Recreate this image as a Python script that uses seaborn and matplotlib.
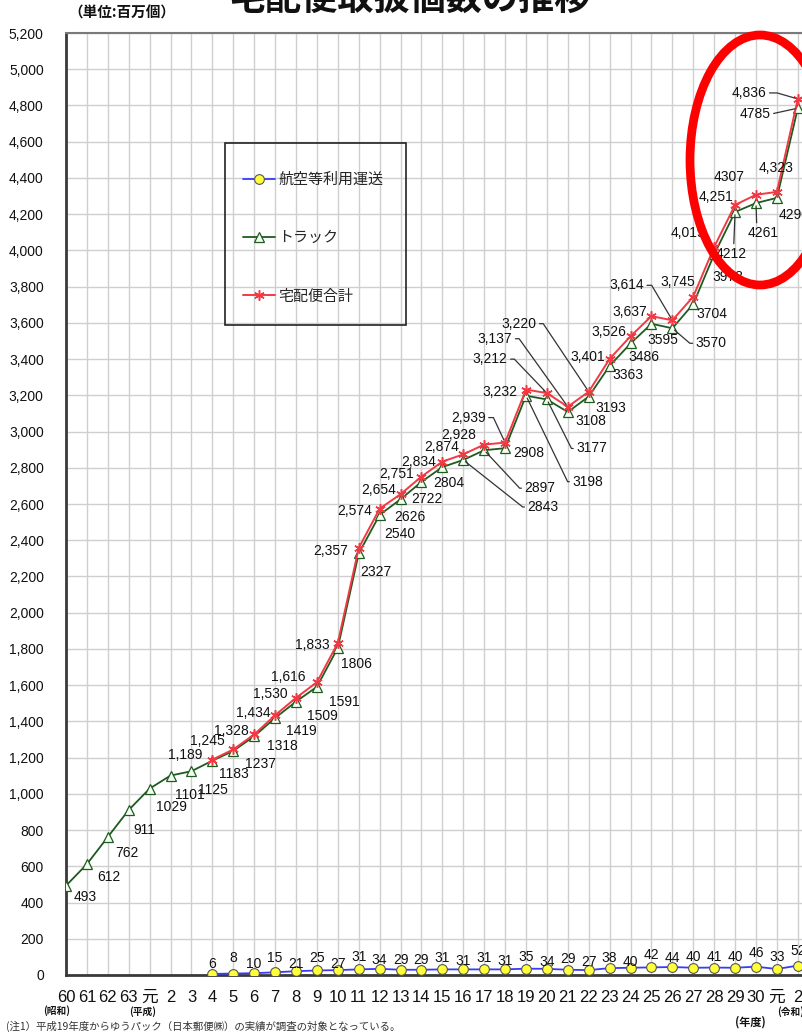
import numpy as np
import pandas as pd
import matplotlib
matplotlib.use("Agg")
import matplotlib.pyplot as plt
from matplotlib.patches import Ellipse, Rectangle
from matplotlib.ticker import FuncFormatter
import seaborn as sns

# ---- data (単位: 百万個) -------------------------------------------------
# fiscal years: 昭和60–63, 平成元–30, 令和元–2
years = ["60", "61", "62", "63", "元"] + [str(n) for n in range(2, 31)] + ["元", "2"]

truck = [493, 612, 762, 911, 1029, 1101, 1125, 1183, 1237, 1318, 1419, 1509,
         1591, 1806, 2327, 2540, 2626, 2722, 2804, 2843, 2897, 2908, 3198, 3177,
         3108, 3193, 3363, 3486, 3595, 3570, 3704, 3978, 4212, 4261, 4290, 4785]

# the total and air series start in 平成4
first_total_year = 7
total = [1189, 1245, 1328, 1434, 1530, 1616, 1833, 2357, 2574, 2654, 2751, 2834,
         2874, 2928, 2939, 3232, 3212, 3137, 3220, 3401, 3526, 3637, 3614, 3745,
         4019, 4251, 4307, 4323, 4836]
air = [6, 8, 10, 15, 21, 25, 27, 31, 34, 29, 29, 31, 31, 31, 31, 35, 34, 29, 27,
       38, 40, 42, 44, 40, 41, 40, 46, 33, 52]

series_names = ["航空等利用運送", "トラック", "宅配便合計"]

# ---- label placement (pixel offsets of the label centre; +dy is downwards) --
truck_off = {0: (19, 11), 1: (22, 13), 2: (19, 16), 3: (16, 20), 4: (22, 18),
             5: (19, 19), 6: (21, 19), 7: (22, 13), 8: (27, 13), 9: (28, 10),
             10: (26, 13), 11: (26, 14), 12: (27, 15), 13: (19, 16), 14: (17, 19),
             15: (20, 19), 16: (9, 18), 17: (5, 17), 18: (6, 16), 21: (24, 5),
             24: (23, 9), 25: (22, 11), 26: (18, 9), 27: (13, 14), 28: (11, 16),
             30: (19, 10), 31: (14, 23), 34: (17, 17)}
# labels joined to their point by a leader line: offset, text anchor, angle, arm
truck_lead = {19: ((80, 47), (0, 0.5), 180, 5), 20: ((56, 38), (0, 0.5), 180, 5),
              22: ((62, 86), (0, 0.5), 180, 5), 23: ((45, 49), (0, 0.5), 180, 5),
              29: ((39, 15), (0, 0.5), 180, 6), 32: ((-4, 42), (0.58, 0.85), 90, 0),
              33: ((7, 30), (0.3, 0.85), 90, 0), 35: ((-43, 6), (1, 0.5), 0, 0)}

total_off = {7: (-27, -5), 8: (-26, -8), 9: (-23, -3), 10: (-22, -2), 11: (-26, -4),
             12: (-29, -5), 13: (-26, 2), 14: (-28, 3), 15: (-25, 2), 16: (-22, -4),
             17: (-25, -3), 18: (-24, 0), 19: (-22, -7), 20: (-25, -10), 22: (-26, 2),
             26: (-22, -2), 27: (-22, -4), 28: (-22, -4), 30: (-15, -15),
             31: (-26, -14), 32: (-19, -8), 33: (-27, -18), 34: (-1, -24)}
total_lead = {21: ((-37, -25), (1, 0.5), 0, 8), 23: ((-57, -34), (1, 0.5), 0, 7),
              24: ((-73, -68), (1, 0.5), 0, 7), 25: ((-70, -68), (1, 0.5), 0, 7),
              29: ((-46, -35), (1, 0.5), 0, 8), 35: ((-49, -6), (1, 0.5), 0, 11)}
total_plain = {33}

air_dy = [-10, -16, -9, -14, -7, -12, -6, -12, -9, -10, -10, -11, -8, -11, -8,
          -12, -7, -11, -8, -10, -6, -12, -9, -11, -11, -11, -14, -12, -15]

# ---- styling -------------------------------------------------------------
W, H = 802, 1032
sns.set_theme(style="white")
plt.rcParams["font.family"] = ["Liberation Sans", "Noto Sans CJK JP", "DejaVu Sans"]
plt.rcParams["axes.unicode_minus"] = False
narrow = ["Liberation Sans Narrow", "Liberation Sans", "Noto Sans CJK JP"]
cjk = ["Noto Sans CJK JP", "DejaVu Sans"]

green = "#1f5a1f"
red = "#f23a44"
blue = "#3a3aff"
text_c = "#111111"

fig = plt.figure(figsize=(W / 100, H / 100), dpi=100)
ax = fig.add_axes([66 / W, 57 / H, 1 - 66 / W, (975 - 33) / H])

x_all = np.arange(len(years))
x_sub = x_all[first_total_year:]
df_truck = pd.DataFrame({"x": x_all, "v": truck})
df_total = pd.DataFrame({"x": x_sub, "v": total})
df_air = pd.DataFrame({"x": x_sub, "v": air})

sns.lineplot(data=df_truck, x="x", y="v", ax=ax, color=green, linewidth=1.3,
             marker="^", markersize=6.5, markerfacecolor="#f4fff4",
             markeredgecolor=green, markeredgewidth=0.9, label=series_names[1],
             zorder=4)
sns.lineplot(data=df_total, x="x", y="v", ax=ax, color=red, linewidth=1.4,
             marker=(6, 2, 0), markersize=7.5, markeredgecolor=red,
             markeredgewidth=1.1, label=series_names[2], zorder=5)
sns.lineplot(data=df_air, x="x", y="v", ax=ax, color=blue, linewidth=1.3,
             marker="o", markersize=7, markerfacecolor="#ffff3a",
             markeredgecolor="#555555", markeredgewidth=0.8,
             label=series_names[0], zorder=6)

ax.set_xlim(0, 35.2)
ax.set_ylim(0, 5200)
ax.set_xticks(x_all)
ax.set_xticklabels(years, fontsize=12, color=text_c, family=narrow)
ax.set_yticks(np.arange(0, 5201, 200))
ax.yaxis.set_major_formatter(FuncFormatter(lambda v, p: f"{int(v):,}"))
ax.tick_params(axis="y", labelsize=10, colors=text_c, length=3, width=1,
               pad=13, direction="out")
ax.tick_params(axis="x", length=0, pad=10.5, colors=text_c)
ax.set_xlabel("")
ax.set_ylabel("")
ax.grid(True, color="#cfcfcf", linewidth=1.0)
ax.set_axisbelow(True)
for side in ("left", "bottom"):
    ax.spines[side].set_color("#3a3a3a")
    ax.spines[side].set_linewidth(2)
ax.spines["top"].set_color("#7a7a7a")
ax.spines["top"].set_linewidth(1.5)
ax.spines["right"].set_visible(False)

lab_kw = dict(textcoords="offset pixels", ha="center", va="center",
              fontsize=10, color=text_c, zorder=7, annotation_clip=False)
line_kw = dict(arrowstyle="-", color="#333333", lw=0.9, shrinkA=0, shrinkB=2)


def put(xv, yv, text, off):
    ax.annotate(text, (xv, yv), xytext=(off[0], -off[1]), **lab_kw)


def put_lead(xv, yv, text, spec):
    off, rel, ang, arm = spec
    conn = f"arc,angleA={ang},armA={arm},angleB=0,armB=0,rad=0" if arm else "arc3"
    ax.annotate(text, (xv, yv), xytext=(off[0], -off[1]),
                arrowprops=dict(connectionstyle=conn, relpos=rel, **line_kw),
                **lab_kw)


for i, v in enumerate(truck):
    if i in truck_lead:
        put_lead(i, v, f"{v}", truck_lead[i])
    else:
        put(i, v, f"{v}", truck_off[i])

for k, v in enumerate(total):
    i = k + first_total_year
    txt = f"{v}" if i in total_plain else f"{v:,}"
    if i in total_lead:
        put_lead(i, v, txt, total_lead[i])
    else:
        put(i, v, txt, total_off[i])

for k, v in enumerate(air):
    put(k + first_total_year, v, f"{v}", (0, air_dy[k]))

# legend: entries anchored by the middle row, framed by a plain box
h, l = ax.get_legend_handles_labels()
order = [l.index(n) for n in series_names]
leg = ax.legend([h[j] for j in order], [l[j] for j in order],
                loc="center left", bbox_to_anchor=(243 / W, 1 - 238 / H),
                bbox_transform=fig.transFigure, borderaxespad=0, borderpad=0,
                prop={"family": cjk, "size": 10.8}, handlelength=2.15,
                handletextpad=0.2, labelspacing=2.95, frameon=False)
fig.add_artist(Rectangle((225 / W, 1 - 325 / H), (406 - 225) / W, (325 - 143) / H,
                         transform=fig.transFigure, fill=False,
                         edgecolor="#222222", linewidth=1.2, zorder=3))

# titles and notes
fig.text(410 / W, 1 - 11 / H, "宅配便取扱個数の推移", ha="center",
         va="baseline", fontsize=26, fontweight="bold", color=text_c, family=cjk)
fig.text(122 / W, 1 - 13 / H, "（単位:百万個）", ha="center", va="center",
         fontsize=10.5, fontweight="bold", color=text_c, family=cjk)
fig.text(57 / W, 1 - 1011 / H, "(昭和)", ha="center", va="center",
         fontsize=7, fontweight="bold", color=text_c, family=cjk)
fig.text(143 / W, 1 - 1012 / H, "(平成)", ha="center", va="center",
         fontsize=7, fontweight="bold", color=text_c, family=cjk)
fig.text(791 / W, 1 - 1012 / H, "(令和)", ha="center", va="center",
         fontsize=7, fontweight="bold", color=text_c, family=cjk)
fig.text(750 / W, 1 - 1022 / H, "(年度)", ha="center", va="center",
         fontsize=8, fontweight="bold", color=text_c, family=cjk)
fig.text(6 / W, 1 - 1026 / H,
         "(注1）平成19年度からゆうパック（日本郵便㈱）の実績が調査の対象となっている。",
         ha="left", va="center", fontsize=7.5, color="#333333", family=cjk)

# highlight ring around the latest years
ring = Ellipse((760 / W, 1 - 160 / H), 140 / W, 250 / H, transform=fig.transFigure,
               fill=False, edgecolor="#ff0000", linewidth=6.3, zorder=20)
fig.add_artist(ring)

fig.savefig("out.png", dpi=100)
